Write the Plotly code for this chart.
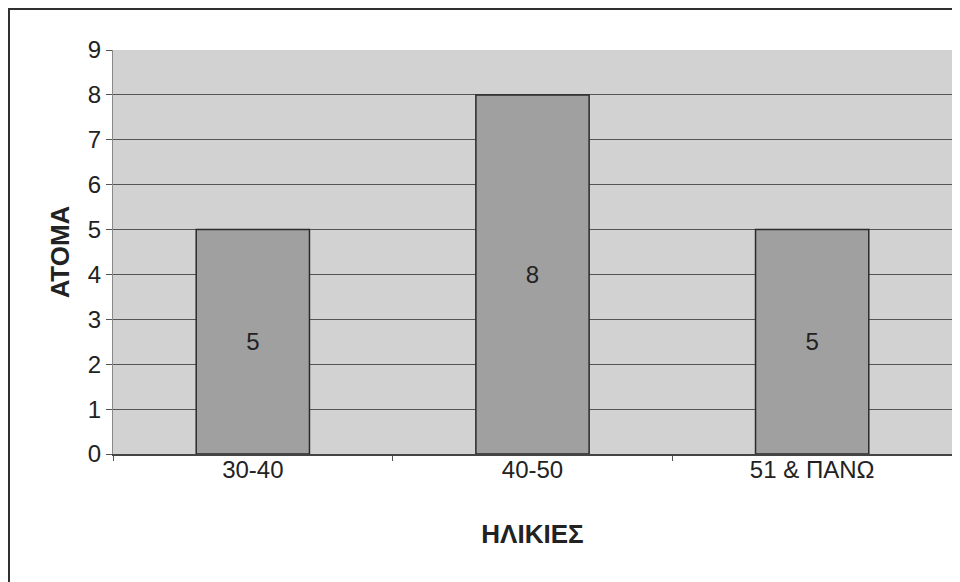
import plotly.graph_objects as go

categories = ['30-40', '40-50', '51 & ΠΑΝΩ']
people = [5, 8, 5]

font_family = 'Liberation Sans, Arial, sans-serif'

# the page adds an 8px margin round the figure, so the figure is a bit smaller
fig = go.Figure()
fig.add_bar(
    x=categories, y=people,
    text=[str(v) for v in people],
    textposition='inside', insidetextanchor='middle',
    textfont=dict(size=24, color='#222222', family=font_family),
    marker=dict(color='#a0a0a0', line=dict(color='#2a2a2a', width=1.5)),
    width=0.405,
)

# outer frame of the scanned page
fig.add_shape(type='rect', xref='paper', yref='paper',
              x0=-104 / 839, x1=1.2, y0=-0.5, y1=1 + 41 / 404,
              line=dict(color='#303030', width=2), fillcolor='rgba(0,0,0,0)',
              layer='below')

fig.update_layout(
    width=952, height=574,
    margin=dict(l=105, r=8, t=42, b=128),
    paper_bgcolor='white', plot_bgcolor='#d2d2d2',
    font=dict(family=font_family, size=24, color='#222222'),
    showlegend=False,
)
fig.update_yaxes(
    range=[0, 9], dtick=1, showgrid=True, gridcolor='#555555', gridwidth=1,
    ticks='outside', ticklen=6, tickcolor='#555555',
    tickfont=dict(size=24),
    showline=True, linecolor='#888888', linewidth=1, mirror=True,
    zeroline=False,
    title=dict(text='<b>ΑΤΟΜΑ</b>', font=dict(size=26), standoff=10),
)
fig.update_xaxes(
    showgrid=False, tickson='boundaries', ticks='outside', ticklen=5,
    tickcolor='#555555', tickfont=dict(size=24), ticklabelstandoff=-7,
    showline=True, linecolor='#444444', linewidth=1.5,
    title=dict(text='<b>ΗΛΙΚΙΕΣ</b>', font=dict(size=26), standoff=43),
)

fig.write_html('out.html')
